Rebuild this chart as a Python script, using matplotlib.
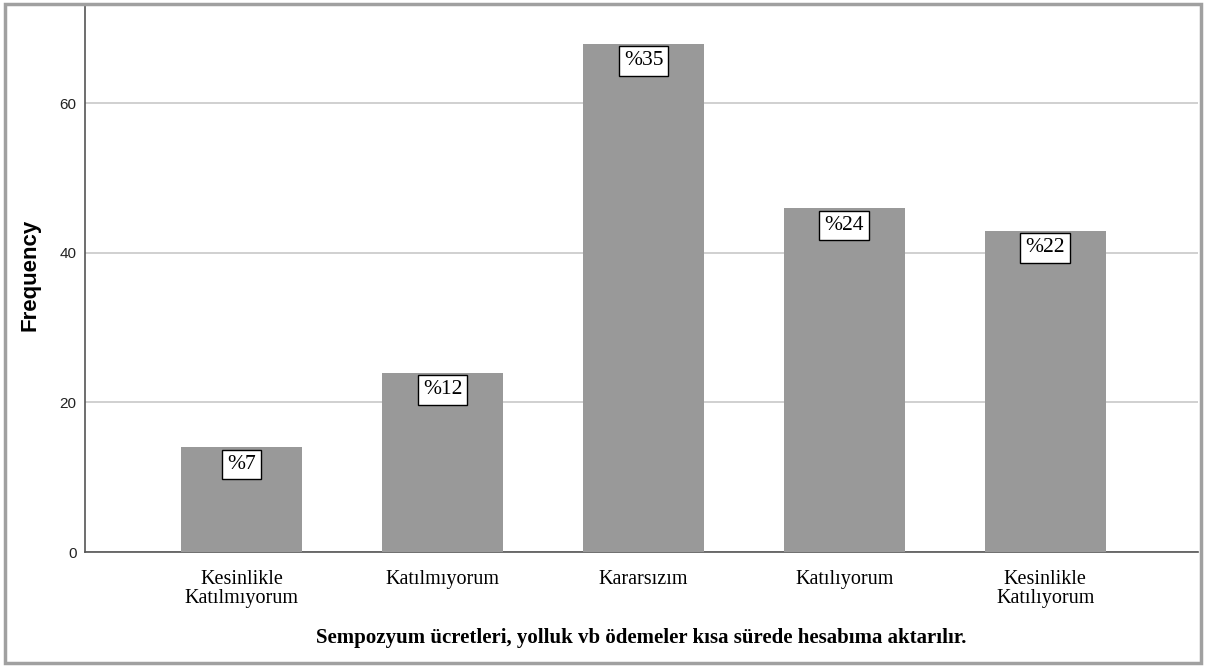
import matplotlib
matplotlib.use("Agg")
import matplotlib.pyplot as plt
from matplotlib.patches import Rectangle

categories = ["Kesinlikle\nKatılmıyorum", "Katılmıyorum", "Kararsızım", "Katılıyorum", "Kesinlikle\nKatılıyorum"]
frequencies = [14, 24, 68, 46, 43]
percent_labels = ["%7", "%12", "%35", "%24", "%22"]
y_ticks = [0, 20, 40, 60]

W, H = 1206, 666
fig = plt.figure(figsize=(W / 100, H / 100), dpi=100)
fig.patch.set_facecolor("white")

# outer border
fig.patches.append(Rectangle((5 / W, 3 / H), 1196 / W, 659 / H, transform=fig.transFigure,
                             fill=False, edgecolor="#a0a0a0", linewidth=2.5))

ax = fig.add_axes([85 / W, (H - 552) / H, (1198 - 85) / W, (552 - 4) / H])
x = list(range(len(categories)))
ax.bar(x, frequencies, width=0.6, color="#999999", zorder=3)
ax.set_xlim(-0.78, 4.76)
ax.set_ylim(0, 73.3)
ax.set_yticks(y_ticks)
ax.yaxis.grid(True, color="#c8c8c8", linewidth=1.2, zorder=0)
ax.set_axisbelow(True)
for s in ["left", "bottom"]:
    ax.spines[s].set_color("#555555")
    ax.spines[s].set_linewidth(1.2)
for s in ["top", "right"]:
    ax.spines[s].set_visible(False)
ax.tick_params(axis="y", length=0, pad=6, labelsize=11, labelcolor="#222222")
ax.tick_params(axis="x", length=0, pad=13)
ax.set_yticklabels([str(t) for t in y_ticks], family="Liberation Sans")
ax.set_xticks(x)
ax.set_xticklabels(categories, family="Liberation Serif", fontsize=14.5, linespacing=1.0)

for xi, v, lab in zip(x, frequencies, percent_labels):
    ax.annotate(lab, (xi, v), xytext=(0, -12.5), textcoords="offset points",
                ha="center", va="center", family="Liberation Serif", fontsize=15.5, zorder=5,
                bbox=dict(boxstyle="square,pad=0.24", facecolor="white", edgecolor="black", linewidth=1))

ax.set_ylabel("Frequency", family="Liberation Sans", fontweight="bold", fontsize=16)
ax.yaxis.set_label_coords(-(85 - 30) / 1113, 0.505)
ax.yaxis.label.set_va("center")
ax.set_xlabel("Sempozyum ücretleri, yolluk vb ödemeler kısa sürede hesabıma aktarılır.",
              family="Liberation Serif", fontweight="bold", fontsize=15)
ax.xaxis.set_label_coords(0.5, -(638 - 552) / 548)
ax.xaxis.label.set_va("center")

fig.savefig("out.png", dpi=100)
